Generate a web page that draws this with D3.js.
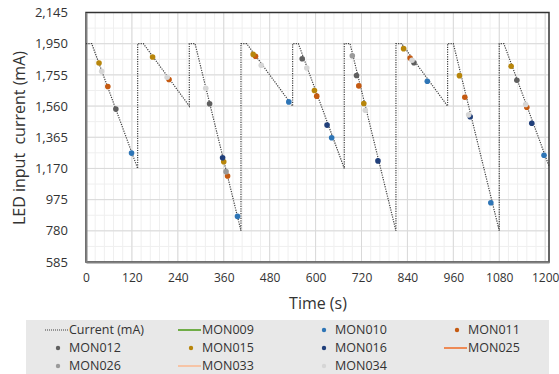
<!DOCTYPE html>
<html>
<head>
<meta charset="utf-8">
<script src="https://cdn.jsdelivr.net/npm/d3@7"></script>
<style>
  body { margin: 0; background: #fff; }
  svg { font-family: "Open Sans", "Liberation Sans", sans-serif; }
</style>
</head>
<body>
<svg width="559" height="374"></svg>
<script>
// current profile vertices [time s, mA]
const currentPts = [
  [0, 1950], [15, 1950], [135, 1170], [135, 1950], [150, 1950], [270, 1560],
  [270, 1950], [285, 1950], [405, 780], [405, 1950], [420, 1950], [540, 1560],
  [540, 1950], [555, 1950], [675, 1170], [675, 1950], [690, 1950], [810, 780],
  [810, 1950], [825, 1950], [945, 1560], [945, 1950], [960, 1950], [1080, 780],
  [1080, 1950], [1092, 1950], [1210, 1185]
];

const mon009 = [];
const mon010 = [[119, 1266], [396, 870], [530, 1586], [642, 1362], [892, 1715], [1058, 955], [1197, 1252]];
const mon011 = [[57, 1682], [217, 1726], [370, 1123], [443, 1871], [603, 1622], [713, 1686], [847, 1860], [990, 1615], [1152, 1553]];
const mon012 = [[78, 1541], [323, 1574], [565, 1856], [707, 1751], [857, 1831], [1126, 1721]];
const mon015 = [[34, 1829], [174, 1867], [360, 1212], [437, 1883], [597, 1657], [726, 1576], [830, 1919], [976, 1750], [1111, 1809]];
const mon016 = [[357, 1237], [630, 1441], [763, 1217], [1004, 1493], [1165, 1453]];
const mon025 = [];
const mon026 = [[366, 1150], [696, 1875]];
const mon033 = [];
const mon034 = [[41, 1777], [212, 1740], [313, 1671], [458, 1815], [577, 1798], [730, 1534], [852, 1846], [1000, 1505], [1149, 1570]];

const xTicks = [0, 120, 240, 360, 480, 600, 720, 840, 960, 1080, 1200];
const yTicks = [585, 780, 975, 1170, 1365, 1560, 1755, 1950, 2145];

const series = [
  { name: "Current (mA)", type: "dotline", color: "#404040", data: [] },
  { name: "MON009", type: "line", color: "#70ad47", data: mon009 },
  { name: "MON010", type: "dot", color: "#2e75b6", data: mon010 },
  { name: "MON011", type: "dot", color: "#c55a11", data: mon011 },
  { name: "MON012", type: "dot", color: "#5f5f5f", data: mon012 },
  { name: "MON015", type: "dot", color: "#b8860b", data: mon015 },
  { name: "MON016", type: "dot", color: "#203f7a", data: mon016 },
  { name: "MON025", type: "line", color: "#ee8a55", data: mon025 },
  { name: "MON026", type: "dot", color: "#9a9a9a", data: mon026 },
  { name: "MON033", type: "line", color: "#f6c4a6", data: mon033 },
  { name: "MON034", type: "dot", color: "#d6d6d6", data: mon034 }
];

const svg = d3.select("svg");
const pLeft = 86, pRight = 549, pTop = 12.5, pBottom = 262;

const x = d3.scaleLinear().domain([0, 1210]).range([pLeft, pRight]);
const y = d3.scaleLinear().domain([585, 2145]).range([pBottom, pTop]);

// minor grid
const minorX = d3.range(0, 1210, 24);
const minorY = d3.range(585, 2145, 97.5);
svg.append("g").selectAll("line").data(minorX).enter().append("line")
  .attr("x1", d => x(d)).attr("x2", d => x(d)).attr("y1", pTop).attr("y2", pBottom)
  .attr("stroke", "#efefef").attr("stroke-width", 1);
svg.append("g").selectAll("line").data(minorY).enter().append("line")
  .attr("y1", d => y(d)).attr("y2", d => y(d)).attr("x1", pLeft).attr("x2", pRight)
  .attr("stroke", "#efefef").attr("stroke-width", 1);

// major grid
svg.append("g").selectAll("line").data(xTicks).enter().append("line")
  .attr("x1", d => x(d)).attr("x2", d => x(d)).attr("y1", pTop).attr("y2", pBottom)
  .attr("stroke", "#d9d9d9").attr("stroke-width", 1);
svg.append("g").selectAll("line").data(yTicks).enter().append("line")
  .attr("y1", d => y(d)).attr("y2", d => y(d)).attr("x1", pLeft).attr("x2", pRight)
  .attr("stroke", "#d9d9d9").attr("stroke-width", 1);

// frame
svg.append("rect").attr("x", pLeft).attr("y", pTop).attr("width", pRight - pLeft).attr("height", pBottom - pTop)
  .attr("fill", "none").attr("stroke", "#333").attr("stroke-width", 1.5);

// axes
const xAxis = svg.append("g").attr("transform", `translate(0,${pBottom})`)
  .call(d3.axisBottom(x).tickValues(xTicks).tickSize(0).tickPadding(11).tickFormat(d3.format("d")));
const yAxis = svg.append("g").attr("transform", `translate(${pLeft},0)`)
  .call(d3.axisLeft(y).tickValues(yTicks).tickSize(0).tickPadding(18).tickFormat(d3.format(",")));
[xAxis, yAxis].forEach(a => {
  a.select(".domain").attr("stroke", "#808080").attr("stroke-width", 2);
  a.selectAll("text").attr("fill", "#333").attr("font-family", "Open Sans");
});
xAxis.selectAll("text").attr("font-size", 12);
yAxis.selectAll("text").attr("font-size", 13);

// current line
const line = d3.line().x(d => x(d[0])).y(d => y(d[1]));
svg.append("path").datum(currentPts).attr("d", line)
  .attr("fill", "none").attr("stroke", "#404040").attr("stroke-width", 1.2)
  .attr("stroke-dasharray", "1.2,1.2");

// marker series
series.filter(s => s.type === "dot").forEach(s => {
  svg.append("g").selectAll("circle").data(s.data).enter().append("circle")
    .attr("cx", d => x(d[0])).attr("cy", d => y(d[1])).attr("r", 2.8)
    .attr("fill", s.color);
});

// axis titles
svg.append("text").attr("x", 318).attr("y", 309).attr("text-anchor", "middle")
  .attr("font-size", 16).attr("fill", "#333").text("Time (s)");
svg.append("text").attr("transform", "translate(25,138) rotate(-90)").attr("text-anchor", "middle")
  .attr("font-size", 16).attr("fill", "#333").attr("xml:space", "preserve").text("LED input  current (mA)");

// legend
svg.append("rect").attr("x", 26).attr("y", 320).attr("width", 523).attr("height", 60).attr("fill", "#e8e8e8");
const colX = [45, 178, 311, 444], rowY = [330, 348, 366];
const leg = svg.append("g").selectAll("g").data(series).enter().append("g")
  .attr("transform", (d, i) => `translate(${colX[i % 4]},${rowY[Math.floor(i / 4)]})`);
leg.each(function (s) {
  const g = d3.select(this);
  if (s.type === "dot") {
    g.append("circle").attr("cx", 13).attr("cy", 0).attr("r", 2.2).attr("fill", s.color);
  } else {
    g.append("line").attr("x1", 0).attr("x2", 23).attr("y1", 0).attr("y2", 0)
      .attr("stroke", s.color).attr("stroke-width", s.type === "line" ? 2 : 1)
      .attr("stroke-dasharray", s.type === "dotline" ? "1,1" : null);
  }
  g.append("text").attr("x", 24).attr("y", 0).attr("dy", "0.35em")
    .attr("font-size", 12.5).attr("fill", "#333").text(s.name);
});
</script>
</body>
</html>
